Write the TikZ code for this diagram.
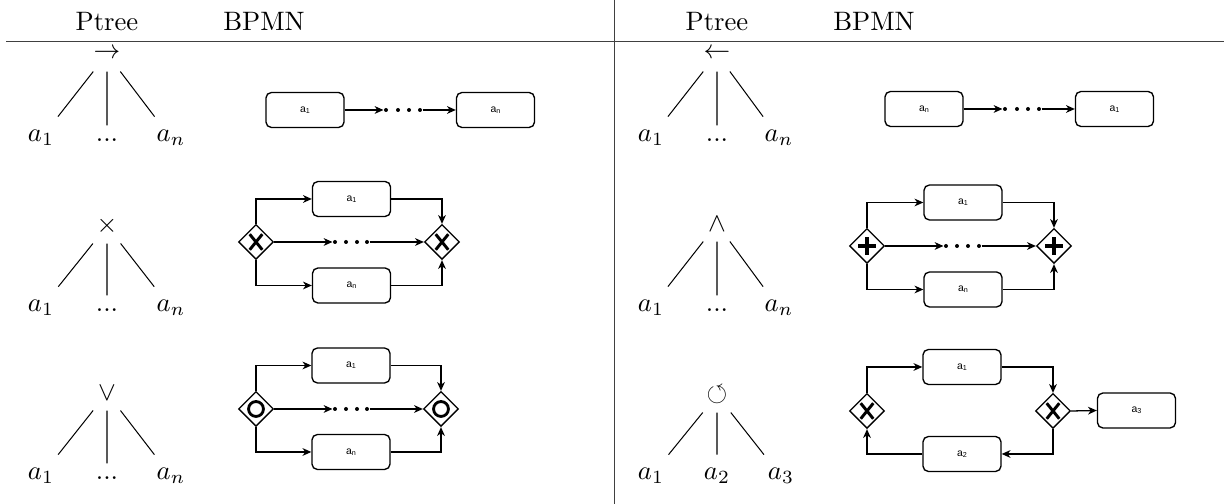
\documentclass[tikz,border=0pt]{standalone}
\usepackage{amssymb}
\usepackage{fontspec}
\newfontfamily\lblfont{Liberation Sans}
\usetikzlibrary{shapes.geometric,arrows.meta}
\newcommand\sbx[1]{\raisebox{-0.5pt}{\fontsize{2.7}{3}\selectfont #1}}
\tikzset{
  rootn/.style={inner sep=0pt, minimum width=11.25pt, minimum height=12.75pt},
  leafn/.style={inner sep=5pt, anchor=base},
  tline/.style={line width=0.38pt},
  hdr/.style={anchor=base, inner sep=0pt},
  rule/.style={line width=0.35pt, black!75},
  task/.style={draw, line width=0.5pt, rounded corners=2pt, minimum width=29.25pt,
    minimum height=13.1pt, inner sep=0pt, font=\lblfont\fontsize{3.9}{4}\selectfont},
  gw/.style={draw, diamond, aspect=1, minimum width=13.1pt, minimum height=13.1pt,
    inner sep=0pt, line width=0.5pt},
  xorgw/.style={gw, path picture={
    \draw[line width=1.1pt]
      ([shift={(-6.3,-7.8)}]path picture bounding box.center) -- ([shift={(6.3,7.8)}]path picture bounding box.center)
      ([shift={(-6.3,7.8)}]path picture bounding box.center) -- ([shift={(6.3,-7.8)}]path picture bounding box.center);}},
  andgw/.style={gw, path picture={
    \draw[line width=1.5pt]
      ([shift={(-8.7,0)}]path picture bounding box.center) -- ([shift={(8.7,0)}]path picture bounding box.center)
      ([shift={(0,-8.7)}]path picture bounding box.center) -- ([shift={(0,8.7)}]path picture bounding box.center);}},
  orgw/.style={gw, path picture={
    \draw[line width=1.05pt] (path picture bounding box.center) circle[radius=2.8pt];}},
  flow/.style={line width=0.48pt, -{Stealth[length=3.3pt,width=2.9pt,inset=1pt]}},
  dotn/.style={circle, fill, inner sep=0pt, minimum size=1.5pt},
}
\begin{document}
\begin{tikzpicture}[x=0.375pt, y=-0.375pt]
\useasboundingbox (0,0) rectangle (1224,504);
% table rules
\draw[rule] (6,41) -- (1224,41);
\draw[rule] (614,0) -- (614,504);
% headers
\node[hdr] (h1) at (107,31) {Ptree};
\node[hdr] (h2) at (264,31) {BPMN};
\node[hdr] (h3) at (717,31) {Ptree};
\node[hdr] (h4) at (874,31) {BPMN};

% ---------- trees ----------
% T1 sequence
\node[rootn] (t1) at (107,54) {$\rightarrow$};
\node[leafn] (t1a) at (41,142) {$a_1$};
\node[leafn] (t1b) at (107,142) {$...$};
\node[leafn] (t1c) at (171,142) {$a_n$};
\draw[tline] (t1) -- (t1a) (t1) -- (t1b) (t1) -- (t1c);
% T2 xor
\node[rootn] (t2) at (107,226) {$\times$};
\node[leafn] (t2a) at (41,312) {$a_1$};
\node[leafn] (t2b) at (107,312) {$...$};
\node[leafn] (t2c) at (171,312) {$a_n$};
\draw[tline] (t2) -- (t2a) (t2) -- (t2b) (t2) -- (t2c);
% T3 or
\node[rootn] (t3) at (107,393) {$\vee$};
\node[leafn] (t3a) at (41,480) {$a_1$};
\node[leafn] (t3b) at (107,480) {$...$};
\node[leafn] (t3c) at (171,480) {$a_n$};
\draw[tline] (t3) -- (t3a) (t3) -- (t3b) (t3) -- (t3c);
% T4 reverse sequence
\node[rootn] (t4) at (717,54) {$\leftarrow$};
\node[leafn] (t4a) at (651,142) {$a_1$};
\node[leafn] (t4b) at (717,142) {$...$};
\node[leafn] (t4c) at (779,142) {$a_n$};
\draw[tline] (t4) -- (t4a) (t4) -- (t4b) (t4) -- (t4c);
% T5 and
\node[rootn] (t5) at (717,224) {$\wedge$};
\node[leafn] (t5a) at (651,312) {$a_1$};
\node[leafn] (t5b) at (717,312) {$...$};
\node[leafn] (t5c) at (779,312) {$a_n$};
\draw[tline] (t5) -- (t5a) (t5) -- (t5b) (t5) -- (t5c);
% T6 loop
\node[rootn] (t6) at (717,395) {$\circlearrowleft$};
\node[leafn] (t6a) at (651,480) {$a_1$};
\node[leafn] (t6b) at (717,480) {$a_2$};
\node[leafn] (t6c) at (781,480) {$a_3$};
\draw[tline] (t6) -- (t6a) (t6) -- (t6b) (t6) -- (t6c);

% ---------- BPMN ----------
% Row 1 left
\node[task] (s1a) at (305,110) {a\sbx{1}};
\node[task] (s1n) at (495.5,110) {a\sbx{n}};
\node[dotn] (s1d1) at (386,110) {};
\node[dotn] (s1d2) at (398,110) {};
\node[dotn] (s1d3) at (409,110) {};
\node[dotn] (s1d4) at (420,110) {};
\draw[flow] (s1a) -- (s1d1);
\draw[flow] (s1d4) -- (s1n);
% Row 1 right
\node[task] (s2n) at (924,109) {a\sbx{n}};
\node[task] (s2a) at (1114.5,109) {a\sbx{1}};
\node[dotn] (s2d1) at (1005,109) {};
\node[dotn] (s2d2) at (1017,109) {};
\node[dotn] (s2d3) at (1028,109) {};
\node[dotn] (s2d4) at (1039,109) {};
\draw[flow] (s2n) -- (s2d1);
\draw[flow] (s2d4) -- (s2a);

% Row 2 left (xor)
\node[xorgw] (x1) at (256,242) {};
\node[xorgw] (x2) at (442,242) {};
\node[task] (x1a) at (351.5,199) {a\sbx{1}};
\node[task] (x1n) at (351.5,285.5) {a\sbx{n}};
\node[dotn] (x1d1) at (335,242) {};
\node[dotn] (x1d2) at (346,242) {};
\node[dotn] (x1d3) at (357,242) {};
\node[dotn] (x1d4) at (367,242) {};
\draw[flow] (x1.north) |- (x1a.west);
\draw[flow] (x1a.east) -| (x2.north);
\draw[flow] (x1.south) |- (x1n.west);
\draw[flow] (x1n.east) -| (x2.south);
\draw[flow] (x1.east) -- (x1d1);
\draw[flow] (x1d4) -- (x2.west);

% Row 3 left (or)
\node[orgw] (o1) at (256,409) {};
\node[orgw] (o2) at (441,409) {};
\node[task] (o1a) at (351,365.5) {a\sbx{1}};
\node[task] (o1n) at (351,452) {a\sbx{n}};
\node[dotn] (o1d1) at (335,409) {};
\node[dotn] (o1d2) at (346,409) {};
\node[dotn] (o1d3) at (357,409) {};
\node[dotn] (o1d4) at (367,409) {};
\draw[flow] (o1.north) |- (o1a.west);
\draw[flow] (o1a.east) -| (o2.north);
\draw[flow] (o1.south) |- (o1n.west);
\draw[flow] (o1n.east) -| (o2.south);
\draw[flow] (o1.east) -- (o1d1);
\draw[flow] (o1d4) -- (o2.west);

% Row 2 right (and)
\node[andgw] (p1) at (867,246) {};
\node[andgw] (p2) at (1054,246) {};
\node[task] (p1a) at (963,202.5) {a\sbx{1}};
\node[task] (p1n) at (963,289.5) {a\sbx{n}};
\node[dotn] (p1d1) at (946,246) {};
\node[dotn] (p1d2) at (957,246) {};
\node[dotn] (p1d3) at (968,246) {};
\node[dotn] (p1d4) at (979,246) {};
\draw[flow] (p1.north) |- (p1a.west);
\draw[flow] (p1a.east) -| (p2.north);
\draw[flow] (p1.south) |- (p1n.west);
\draw[flow] (p1n.east) -| (p2.south);
\draw[flow] (p1.east) -- (p1d1);
\draw[flow] (p1d4) -- (p2.west);

% Row 3 right (loop)
\node[xorgw] (l1) at (867,411) {};
\node[xorgw] (l2) at (1053,411) {};
\node[task] (l1a) at (962,367) {a\sbx{1}};
\node[task] (l1b) at (962,454) {a\sbx{2}};
\node[task] (l1c) at (1136.5,410.5) {a\sbx{3}};
\draw[flow] (l1.north) |- (l1a.west);
\draw[flow] (l1a.east) -| (l2.north);
\draw[flow] (l2.east) -- (l1c.west);
\draw[flow] (l2.south) |- (l1b.east);
\draw[flow] (l1b.west) -| (l1.south);
\end{tikzpicture}
\end{document}
